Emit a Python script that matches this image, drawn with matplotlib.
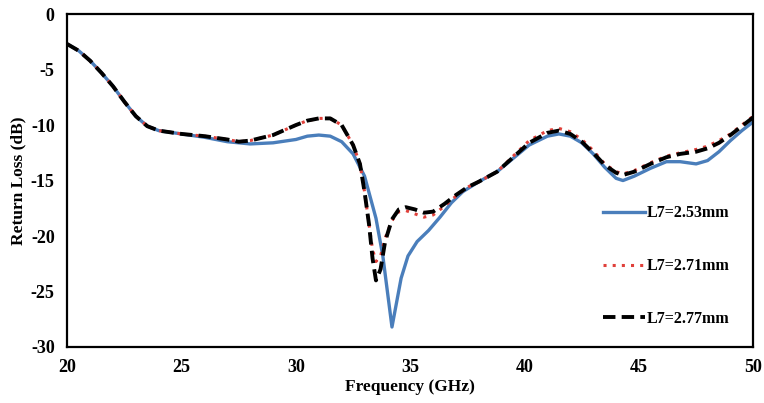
import matplotlib
matplotlib.use("Agg")
import matplotlib.pyplot as plt

plt.rcParams['font.family'] = ['Liberation Serif', 'DejaVu Serif']
plt.rcParams['font.weight'] = 'bold'
plt.rcParams['axes.unicode_minus'] = False

# readings from the reference (GHz, dB)
freq_a = [20, 20.5, 21, 21.5, 22, 22.5, 23, 23.5, 24, 25, 26, 27, 28, 29, 30, 30.5, 31,
          31.5, 32, 32.5, 33, 33.5, 33.8, 34.0, 34.2, 34.4, 34.6, 34.9, 35.3, 35.8, 36.3,
          36.8, 37.3, 38, 38.8, 39.5, 40.2, 41, 41.5, 42, 42.5, 43, 43.5, 44, 44.3, 44.8,
          45.5, 46.2, 46.8, 47.5, 48, 48.5, 49, 49.5, 50]
rl_253 = [-2.7, -3.3, -4.2, -5.3, -6.5, -7.9, -9.2, -10.1, -10.5, -10.8, -11.1, -11.5, -11.7,
          -11.6, -11.3, -11.0, -10.9, -11.0, -11.5, -12.6, -14.6, -18.4, -21.8, -25.0, -28.2,
          -26.0, -23.8, -21.8, -20.5, -19.5, -18.3, -17.0, -16.0, -15.1, -14.2, -13.0, -11.8,
          -11.0, -10.8, -11.0, -11.6, -12.6, -13.8, -14.8, -15.0, -14.6, -13.9, -13.3, -13.3,
          -13.5, -13.2, -12.4, -11.4, -10.5, -9.7]

freq_b = [20, 20.5, 21, 21.5, 22, 22.5, 23, 23.5, 24, 25, 26, 27, 27.5, 28, 29, 30, 30.5,
          31, 31.5, 32, 32.5, 32.8, 33, 33.2, 33.35, 33.5, 33.7, 33.9, 34.2, 34.5, 34.8,
          35.2, 35.6, 36, 36.5, 37, 37.5, 38, 38.8, 39.5, 40.2, 41, 41.5, 42, 42.5, 43,
          43.5, 44, 44.3, 44.8, 45.5, 46.2, 46.8, 47.5, 48, 48.5, 49, 49.5, 50]
rl_271 = [-2.7, -3.3, -4.2, -5.3, -6.5, -7.9, -9.2, -10.1, -10.5, -10.8, -11.0, -11.3, -11.5,
          -11.4, -10.9, -10.0, -9.6, -9.4, -9.4, -10.0, -11.8, -13.5, -16.0, -19.0, -21.2,
          -22.3, -21.8, -20.2, -18.6, -17.8, -17.7, -18.0, -18.3, -18.1, -17.3, -16.4, -15.6,
          -15.1, -14.2, -12.8, -11.4, -10.5, -10.3, -10.6, -11.3, -12.3, -13.5, -14.2, -14.4,
          -14.1, -13.4, -12.8, -12.5, -12.2, -11.9, -11.4, -10.8, -10.0, -9.2]
rl_277 = [-2.7, -3.3, -4.2, -5.3, -6.5, -7.9, -9.2, -10.1, -10.5, -10.8, -11.0, -11.3, -11.5,
          -11.4, -10.9, -10.0, -9.6, -9.4, -9.4, -10.0, -11.8, -13.5, -16.0, -19.0, -22.0,
          -24.0, -23.0, -20.5, -18.5, -17.6, -17.4, -17.6, -17.9, -17.8, -17.1, -16.3, -15.6,
          -15.1, -14.2, -12.9, -11.6, -10.7, -10.5, -10.8, -11.5, -12.5, -13.6, -14.3, -14.5,
          -14.2, -13.5, -12.9, -12.6, -12.4, -12.1, -11.6, -10.9, -10.1, -9.3]

fig = plt.figure(figsize=(7.64, 4.03), dpi=100)
ax = fig.add_axes([0.088, 0.139, 0.898, 0.826])

ax.plot(freq_a, rl_253, color='#4a7ebb', lw=2.4, label='L7=2.53mm')
ax.plot(freq_b, rl_271, color='#e0403a', lw=2.2, ls=(0, (1, 2)), label='L7=2.71mm')
ax.plot(freq_b, rl_277, color='black', lw=2.8, ls=(0, (3.2, 1.6)), label='L7=2.77mm')

ax.set_xlim(20, 50)
ax.set_ylim(-30, 0)
ax.set_xticks([20, 25, 30, 35, 40, 45, 50])
ax.set_yticks([0, -5, -10, -15, -20, -25, -30])
ax.tick_params(length=0, labelsize=13, pad=9)
for lab in ax.get_xticklabels() + ax.get_yticklabels():
    lab.set_fontweight('bold')
for sp in ax.spines.values():
    sp.set_linewidth(1.6)

ax.set_xlabel('Frequency (GHz)', fontsize=12.5, fontweight='bold', labelpad=2)
ax.set_ylabel('Return Loss (dB)', fontsize=12.5, fontweight='bold', labelpad=3)

leg = ax.legend(loc='center left', bbox_to_anchor=(0.77, 0.243), frameon=False,
                fontsize=11.5, labelspacing=2.3, handlelength=2.6, handletextpad=0.1,
                borderpad=0)
for t in leg.get_texts():
    t.set_fontweight('bold')

fig.savefig('out.png', dpi=100)
